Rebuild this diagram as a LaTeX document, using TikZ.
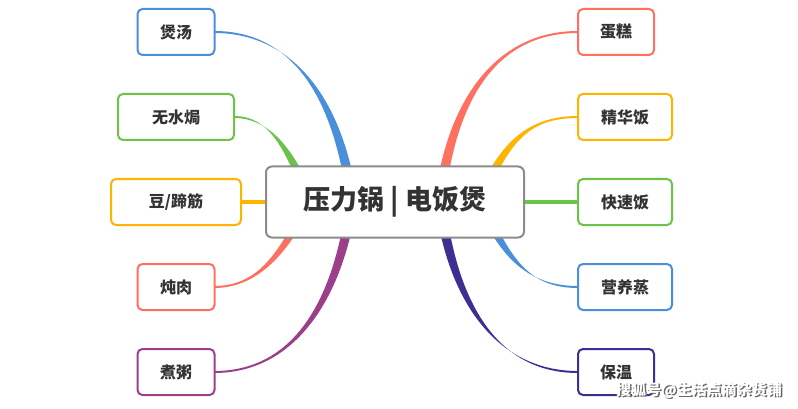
\documentclass[tikz,border=0pt]{standalone}
\usepackage{fontspec}
\setmainfont{Noto Sans CJK SC}
\begin{document}
\begin{tikzpicture}[x=1pt,y=-1pt,
 leaf/.style={draw=#1,line width=2pt,rounded corners=5pt,fill=white,minimum height=46pt,inner xsep=12pt,font=\fontsize{16}{16}\selectfont\bfseries,text=black!80},
]
\definecolor{cb}{HTML}{4A8FDB}\definecolor{cg}{HTML}{6CC24A}\definecolor{co}{HTML}{FFB400}
\definecolor{cs}{HTML}{FF7061}\definecolor{cp}{HTML}{9B3F8B}\definecolor{cd}{HTML}{3F2E91}
\useasboundingbox (0,0) rectangle (798,409);
\newcommand\br[9]{\fill[#1] (#2,#3-1) .. controls (#4,#5-1) and (#6-5,#7) .. (#8-5,#9) -- (#8+5,#9) .. controls (#6+5,#7) and (#4,#5+1) .. (#2,#3+1) -- cycle;}
\br{cb}{214}{32}{300}{32}{340}{110}{352}{200}
\br{cg}{234}{117}{270}{117}{290}{150}{310}{200}
\br{cs}{214}{287}{260}{287}{285}{250}{310}{200}
\br{cp}{214}{372}{300}{372}{340}{290}{352}{200}
\br{cs}{578}{32}{490}{32}{450}{110}{440}{200}
\br{co}{578}{117}{530}{117}{505}{140}{480}{200}
\br{cb}{578}{287}{530}{287}{505}{260}{480}{200}
\br{cd}{578}{372}{490}{372}{450}{290}{440}{200}
\fill[co] (241,200) rectangle (300,204);
\fill[cg] (490,200) rectangle (578,204);
\node[draw=black!45,line width=2pt,rounded corners=6pt,fill=white,minimum width=258pt,minimum height=71pt,font=\fontsize{27}{27}\selectfont\bfseries,text=black!80] (c) at (395,202) {压力锅 | 电饭煲};
\node[leaf=cb,minimum width=77pt] (l1) at (176,32) {煲汤};
\node[leaf=cg,minimum width=116pt] (l2) at (176,117) {无水焗};
\node[leaf=co,minimum width=130pt] (l3) at (176,202) {豆/蹄筋};
\node[leaf=cs,minimum width=77pt] (l4) at (176,287) {炖肉};
\node[leaf=cp,minimum width=77pt] (l5) at (176,372) {煮粥};
\node[leaf=cs,minimum width=76pt] (r1) at (616,32) {蛋糕};
\node[leaf=co,minimum width=94pt] (r2) at (625,117) {精华饭};
\node[leaf=cg,minimum width=94pt] (r3) at (625,202) {快速饭};
\node[leaf=cb,minimum width=94pt] (r4) at (625,287) {营养蒸};
\node[leaf=cd,minimum width=76pt] (r5) at (616,372) {保温};
\node[text=black!60,font=\fontsize{15}{15}\selectfont\bfseries] at (700.5,391.5) {搜狐号@生活点滴杂货铺};
\node[text=white,font=\fontsize{15}{15}\selectfont\bfseries] (wm) at (699,390) {搜狐号@生活点滴杂货铺};
\end{tikzpicture}
\end{document}
